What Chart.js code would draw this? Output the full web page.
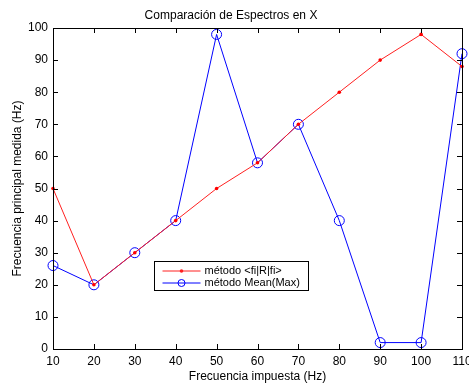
<!DOCTYPE html>
<html>
<head>
<meta charset="utf-8">
<script src="https://cdn.jsdelivr.net/npm/chart.js@4/dist/chart.umd.min.js"></script>
<style>
  html, body { margin: 0; padding: 0; background: #fff; }
  #wrap { width: 469px; height: 387px; }
</style>
</head>
<body>
<div id="wrap"><canvas id="grafico" width="469" height="387"></canvas></div>
<script>
// datos
let frecuencias = [10, 20, 30, 40, 50, 60, 70, 80, 90, 100, 110]
let metodoFiRFi = [50, 20, 30, 40, 50, 58, 70, 80, 90, 98, 88]
let metodoMeanMax = [26, 20, 30, 40, 98, 58, 70, 40, 2, 2, 92]
let ticksX = [10, 20, 30, 40, 50, 60, 70, 80, 90, 100, 110]
let ticksY = [0, 10, 20, 30, 40, 50, 60, 70, 80, 90, 100]

function puntos(valores) {
  return frecuencias.map((f, i) => ({ x: f, y: valores[i] }))
}

const fuente = 'Liberation Sans, Arial, sans-serif'

//###Caja, marcas hacia dentro y leyenda estilo matlab
const cajaMatlab = {
  id: 'cajaMatlab',
  afterDatasetsDraw(chart) {
    const ctx = chart.ctx
    const a = chart.chartArea
    const sx = chart.scales.x, sy = chart.scales.y
    ctx.save()
    ctx.strokeStyle = '#000'
    ctx.lineWidth = 1
    // marcas
    ctx.beginPath()
    ticksX.forEach(v => {
      const px = Math.round(sx.getPixelForValue(v)) + 0.5
      ctx.moveTo(px, a.bottom); ctx.lineTo(px, a.bottom - 5)
      ctx.moveTo(px, a.top); ctx.lineTo(px, a.top + 5)
    })
    ticksY.forEach(v => {
      const py = Math.round(sy.getPixelForValue(v)) + 0.5
      ctx.moveTo(a.left, py); ctx.lineTo(a.left + 5, py)
      ctx.moveTo(a.right, py); ctx.lineTo(a.right - 5, py)
    })
    ctx.stroke()
    ctx.strokeRect(Math.round(a.left) + 0.5, Math.round(a.top) + 0.5,
      Math.round(a.right - a.left), Math.round(a.bottom - a.top))

    // leyenda
    const lx = Math.round(a.left + (a.right - a.left) * 0.247) + 0.5
    const ly = Math.round(a.top + (a.bottom - a.top) * 0.726) + 0.5
    const lw = 154, lh = 29
    ctx.fillStyle = '#fff'
    ctx.fillRect(lx, ly, lw, lh)
    ctx.strokeRect(lx, ly, lw, lh)
    ctx.font = '11px ' + fuente
    ctx.textBaseline = 'middle'
    chart.data.datasets.forEach((ds, i) => {
      const y = ly + 9.5 + i * 12
      ctx.strokeStyle = ds.borderColor
      ctx.beginPath(); ctx.moveTo(lx + 8, y); ctx.lineTo(lx + 46, y); ctx.stroke()
      if (i === 0) {
        ctx.fillStyle = ds.borderColor
        ctx.beginPath(); ctx.arc(lx + 27, y, 1.8, 0, Math.PI * 2); ctx.fill()
      } else {
        ctx.beginPath(); ctx.arc(lx + 27, y, 3.5, 0, Math.PI * 2); ctx.stroke()
      }
      ctx.fillStyle = '#000'
      ctx.fillText(ds.label, lx + 50, y)
    })
    ctx.restore()
  }
}

var ctx = document.getElementById('grafico').getContext('2d')
var grafico = new Chart(ctx, {
  type: 'line',
  data: {
    datasets: [{
      label: 'método <fi|R|fi>',
      data: puntos(metodoFiRFi),
      borderColor: '#ff2020',
      backgroundColor: '#ff0000',
      borderWidth: 1,
      pointRadius: 1.8,
      pointBorderWidth: 0,
      pointStyle: 'circle',
      clip: false
    }, {
      label: 'método Mean(Max)',
      data: puntos(metodoMeanMax),
      borderColor: '#0000ff',
      backgroundColor: 'rgba(0,0,0,0)',
      borderWidth: 1,
      pointRadius: 5,
      pointBorderWidth: 1,
      pointStyle: 'circle',
      clip: false
    }]
  },
  plugins: [cajaMatlab],
  options: {
    responsive: false,
    animation: false,
    events: [],
    layout: { padding: { left: 0, right: 7, top: 0, bottom: 0 } },
    plugins: {
      legend: { display: false },
      tooltip: { enabled: false },
      title: {
        display: true,
        text: 'Comparación de Espectros en X',
        color: '#000',
        font: { family: fuente, size: 12, weight: 'normal', lineHeight: 1.2 },
        padding: { top: 8, bottom: 5.6 }
      }
    },
    scales: {
      x: {
        type: 'linear',
        min: 10, max: 110,
        afterBuildTicks: s => { s.ticks = ticksX.map(v => ({ value: v })) },
        afterFit: s => { s.height = 38; s.paddingLeft = 0; s.paddingRight = 0 },
        grid: { display: false, drawTicks: false },
        border: { display: false },
        ticks: { color: '#000', font: { family: fuente, size: 12 }, padding: 5, maxRotation: 0, autoSkip: false },
        title: {
          display: true, text: 'Frecuencia impuesta (Hz)', color: '#000',
          font: { family: fuente, size: 12, lineHeight: 1.2 }, padding: { top: 0, bottom: 3 }
        }
      },
      y: {
        min: 0, max: 100,
        afterBuildTicks: s => { s.ticks = ticksY.map(v => ({ value: v })) },
        afterFit: s => { s.width = 53; s.paddingTop = 0; s.paddingBottom = 0 },
        grid: { display: false, drawTicks: false },
        border: { display: false },
        ticks: { color: '#000', font: { family: fuente, size: 12 }, padding: 5, autoSkip: false },
        title: {
          display: true, text: 'Frecuencia principal medida (Hz)', color: '#000',
          font: { family: fuente, size: 12, lineHeight: 1.2 }, padding: { top: 10, bottom: 0 }
        }
      }
    }
  }
})
</script>
</body>
</html>
